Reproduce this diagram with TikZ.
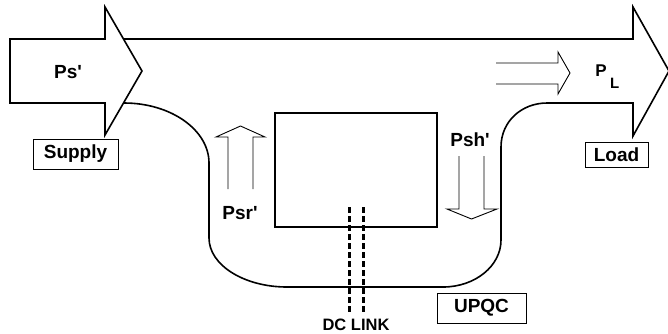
\documentclass[tikz,border=0pt]{standalone}
\usepackage{fontspec}
\setmainfont{Liberation Sans}
\usetikzlibrary{positioning}

\begin{document}
\begin{tikzpicture}[x=1pt, y=-1pt,
    flow/.style={line width=1.6pt, line join=miter},
    thinarrow/.style={line width=0.9pt, line join=miter},
    tag/.style={draw, line width=1pt, inner sep=0pt, font=\fontsize{19}{22}\selectfont\bfseries},
    lbl/.style={inner sep=0pt, font=\fontsize{19}{22}\selectfont\bfseries},
    dclink/.style={line width=3pt, dash pattern=on 6pt off 3pt}]
    \useasboundingbox (0,0) rectangle (668,333);

    % --- Supply arrow (left) ---
    \draw[flow] (10,39) -- (105,39) -- (105,7) -- (142,71) -- (105,135)
        -- (105,103) -- (10,103) -- cycle;

    % --- Load arrow and the UPQC path between them ---
    \draw[flow] (124,39) -- (633,39) -- (633,7) -- (669,71) -- (633,136)
        -- (633,103) -- (547,103)
        .. controls (522,103) and (501,121) .. (501,147) -- (501,240)
        .. controls (501,266) and (475,287) .. (443,287) -- (287,287)
        .. controls (244,287) and (209,265) .. (209,238) -- (209,163)
        .. controls (209,130) and (171,103) .. (124,103);

    % --- Converter block ---
    \node[draw, line width=1.4pt, minimum width=162pt, minimum height=114pt,
          inner sep=0pt] (conv) at (356,170) {};

    % --- Series and shunt power arrows ---
    \draw[thinarrow] (228,189) -- (228,137) -- (216,137) -- (240.5,126)
        -- (265,137) -- (253,137) -- (253,189);
    \draw[thinarrow] (459,156) -- (459,209) -- (447,209) -- (471.5,219)
        -- (497,209) -- (484,209) -- (484,156);
    \draw[thinarrow] (496,63) -- (558,63) -- (558,52) -- (570,73)
        -- (558,94) -- (558,84) -- (496,84);

    % --- DC link ---
    \coordinate (dca) at (349,207);
    \coordinate (dcb) at (363,207);
    \coordinate (dcc) at (349,313);
    \coordinate (dcd) at (363,313);
    \draw[dclink] (dca) -- (dcc);
    \draw[dclink] (dcb) -- (dcd);

    % --- Labels ---
    \node[lbl] (ps) at (68,72) {Ps\textquotesingle};
    \node[lbl, font=\fontsize{17}{19}\selectfont\bfseries] (pl) at (601,70.5) {P};
    \node[lbl, font=\fontsize{15}{17}\selectfont\bfseries, anchor=north west]
        (plsub) at ([xshift=3pt, yshift=-1pt]pl.south east) {L};
    \node[lbl] (psr) at (240,213) {Psr\textquotesingle};
    \node[lbl] (psh) at (470,140) {Psh\textquotesingle};
    \node[lbl, font=\fontsize{16.5}{18}\selectfont\bfseries] (dctxt) at (356,325) {DC LINK};

    % --- Boxed tags ---
    \node[tag, minimum width=85pt, minimum height=30pt] (supply) at (75.5,154) {Supply};
    \node[tag, minimum width=63pt, minimum height=25pt] (load) at (616.5,154.5) {Load};
    \node[tag, minimum width=89pt, minimum height=30pt] (upqc) at (481.5,308) {UPQC};
\end{tikzpicture}
\end{document}
